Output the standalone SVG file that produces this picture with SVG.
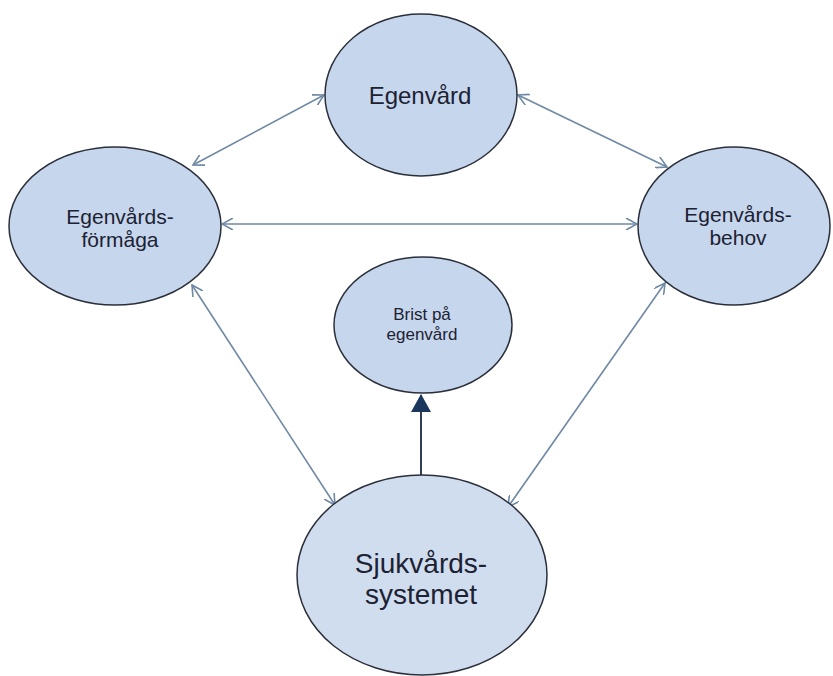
<svg xmlns="http://www.w3.org/2000/svg" width="833" height="676" viewBox="0 0 833 676">
  <style>
    .node { fill: #c6d6ec; stroke: #2b2f3a; stroke-width: 1.5; }
    .light { fill: #d0ddef; }
    .lbl { font-family: "Liberation Sans", Arial, sans-serif; fill: #1c2233; text-anchor: middle; }
    .link { stroke: #6f89a5; stroke-width: 1.6; fill: none; marker-start: url(#chev); marker-end: url(#chev); }
    .main { stroke: #2f3f55; stroke-width: 2; fill: none; marker-end: url(#tri); }
  </style>
  <defs>
    <marker id="chev" viewBox="0 0 12 12" refX="11" refY="6" markerWidth="12" markerHeight="12" markerUnits="userSpaceOnUse" orient="auto-start-reverse">
      <path d="M0,0 L11,6 L0,12" fill="none" stroke="#6f89a5" stroke-width="1.6"/>
    </marker>
    <marker id="tri" viewBox="0 0 18 20" refX="17" refY="10" markerWidth="18" markerHeight="20" markerUnits="userSpaceOnUse" orient="auto">
      <path d="M0,0 L18,10 L0,20 Z" fill="#1b365d"/>
    </marker>
  </defs>
  <rect width="833" height="676" fill="#ffffff"/>

  <g id="connectors">
    <line class="link" x1="193" y1="165" x2="324" y2="95"/>
    <line class="link" x1="518" y1="95" x2="667" y2="167"/>
    <line class="link" x1="222" y1="224" x2="637" y2="224"/>
    <line class="link" x1="192" y1="285" x2="335" y2="505"/>
    <line class="link" x1="665" y1="283" x2="508" y2="507"/>
    <line class="main" x1="421" y1="476" x2="421" y2="395"/>
  </g>

  <g id="egenvard">
    <ellipse class="node" cx="421" cy="95" rx="96" ry="81"/>
    <text class="lbl" x="420" y="104" font-size="24">Egenvård</text>
  </g>

  <g id="formaga">
    <ellipse class="node" cx="115" cy="226" rx="106" ry="79"/>
    <text class="lbl" x="120" y="224" font-size="21">Egenvårds-</text>
    <text class="lbl" x="120" y="247" font-size="21">förmåga</text>
  </g>

  <g id="behov">
    <ellipse class="node" cx="734" cy="226" rx="96" ry="79"/>
    <text class="lbl" x="738" y="222" font-size="21">Egenvårds-</text>
    <text class="lbl" x="738" y="245" font-size="21">behov</text>
  </g>

  <g id="brist">
    <ellipse class="node" cx="423" cy="325" rx="89" ry="68"/>
    <text class="lbl" x="422" y="320" font-size="17">Brist på</text>
    <text class="lbl" x="422" y="340" font-size="17">egenvård</text>
  </g>

  <g id="sjukvard">
    <ellipse class="node light" cx="422" cy="575" rx="125" ry="100"/>
    <text class="lbl" x="421" y="573" font-size="28">Sjukvårds-</text>
    <text class="lbl" x="421" y="604" font-size="28">systemet</text>
  </g>
</svg>
